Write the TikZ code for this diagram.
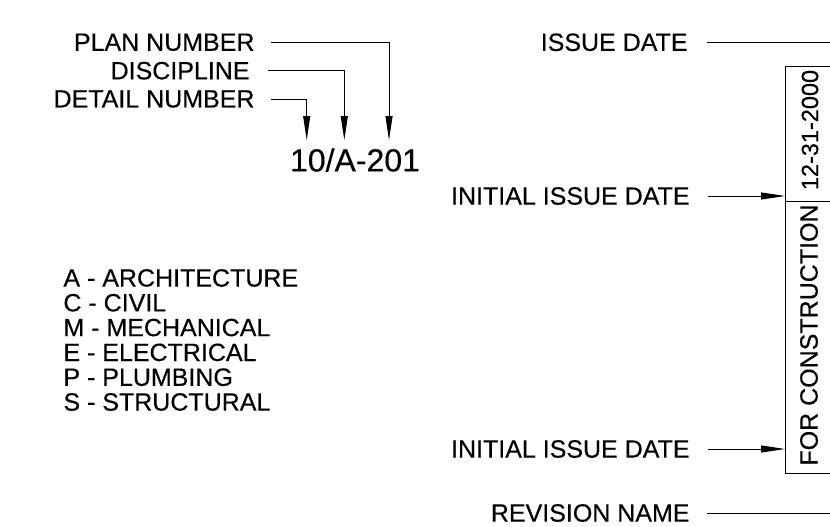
\documentclass[tikz,border=0pt]{standalone}
\usepackage{fontspec}
\setmainfont[FakeBold=0.3]{Liberation Sans}
\usetikzlibrary{arrows.meta}

\begin{document}
\begin{tikzpicture}[x=1pt, y=-1pt, line width=0.9pt,
  every node/.style={font=\fontsize{25}{30}\selectfont, inner sep=0pt},
  leader/.style={-{Triangle[length=24pt,width=7pt]}},
  lbl/.style={anchor=east}]
\useasboundingbox (0,0) rectangle (830,527);
% detail reference callout
\node[lbl] (plan) at (255,42.3) {PLAN NUMBER};
\node[lbl] (disc) at (250,70.7) {DISCIPLINE};
\node[lbl] (detail) at (255,99) {DETAIL NUMBER};
\node[font=\fontsize{32}{38}\selectfont] (tag) at (355,160) {10/A-201};
\coordinate (tipPlan) at (389,140); \coordinate (tipDisc) at (344.3,140); \coordinate (tipDetail) at (306.7,140);
\draw[leader] ([xshift=16pt]plan.east) -| (tipPlan);
\draw[leader] ([xshift=18pt]disc.east) -| (tipDisc);
\draw[leader] ([xshift=16pt]detail.east) -| (tipDetail);
% discipline legend
\foreach \txt [count=\k] in {A - ARCHITECTURE, C - CIVIL, M - MECHANICAL, E - ELECTRICAL, P - PLUMBING, S - STRUCTURAL}
  \node[anchor=west] (disc\k) at (63,{278+24.8*(\k-1)}) {\txt};
% revision block
\draw (830,66) -- (785,66) -- (785,473) -- (830,473); \draw (785,201) -- (830,201);
\node[rotate=90, font=\fontsize{23.5}{28}\selectfont] (date) at (810,130) {12-31-2000};
\node[rotate=90] (status) at (809,335) {FOR CONSTRUCTION};
\node[lbl] (issue) at (688,42.3) {ISSUE DATE};
\node[lbl] (initA) at (690,196) {INITIAL ISSUE DATE};
\node[lbl] (initB) at (690,449) {INITIAL ISSUE DATE};
\node[lbl] (rev) at (690,513) {REVISION NAME};
\coordinate (issueEnd) at (830,42.3); \coordinate (revEnd) at (830,513);
\coordinate (tipInitA) at (785,196); \coordinate (tipInitB) at (785,449);
\draw ([xshift=19pt]issue.east) -- (issueEnd);
\draw[leader] ([xshift=18pt]initA.east) -- (tipInitA);
\draw[leader] ([xshift=18pt]initB.east) -- (tipInitB);
\draw ([xshift=17pt]rev.east) -- (revEnd);
\end{tikzpicture}
\end{document}
